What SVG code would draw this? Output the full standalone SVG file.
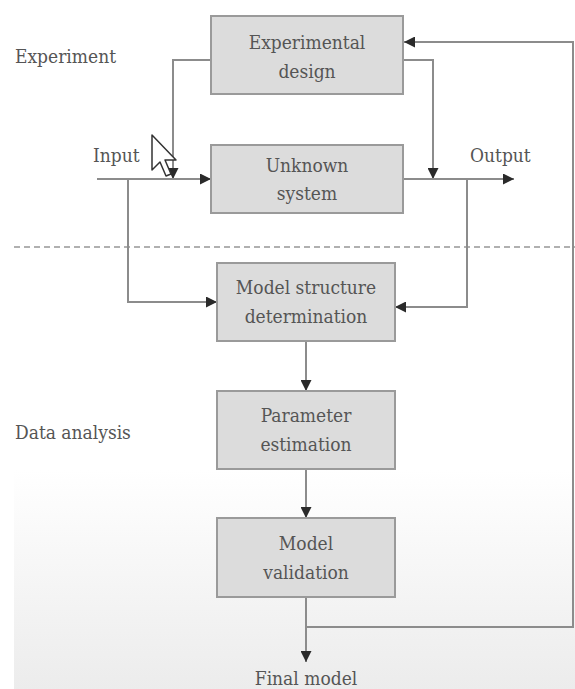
<svg xmlns="http://www.w3.org/2000/svg" width="575" height="689" viewBox="0 0 575 689">
  <defs>
    <marker id="arrow" markerUnits="userSpaceOnUse" markerWidth="11" markerHeight="11" refX="11" refY="5.5" orient="auto">
      <path d="M0,0 L11,5.5 L0,11 z" fill="#2a2a2a"/>
    </marker>
    <linearGradient id="fade" x1="0" y1="0" x2="0" y2="1">
      <stop offset="0" stop-color="#ffffff"/>
      <stop offset="1" stop-color="#ececec"/>
    </linearGradient>
    <style>
      .box { fill: #dcdcdc; stroke: #9a9a9a; stroke-width: 2; }
      .lbl { font-family: 'DejaVu Serif Condensed', 'DejaVu Serif', serif; font-stretch: condensed; font-size: 19px; fill: #555555; }
      .mid { text-anchor: middle; }
      .wire { fill: none; stroke: #8c8c8c; stroke-width: 2; }
    </style>
  </defs>

  <rect width="575" height="689" fill="#ffffff"/>
  <rect x="14" y="470" width="561" height="219" fill="url(#fade)"/>

  <!-- section divider -->
  <line x1="14" y1="247" x2="575" y2="247" stroke="#b0b0b0" stroke-width="2" stroke-dasharray="6 4"/>

  <!-- section labels -->
  <text class="lbl" x="15" y="63">Experiment</text>
  <text class="lbl" x="15" y="439">Data analysis</text>
  <text class="lbl" x="93" y="162">Input</text>
  <text class="lbl" x="470" y="162">Output</text>
  <text class="lbl mid" x="306" y="685">Final model</text>

  <!-- connectors -->
  <g id="connectors">
    <path class="wire" d="M306 627 H573 V42 H404" marker-end="url(#arrow)"/>
    <path class="wire" d="M211 60 H173 V179" marker-end="url(#arrow)"/>
    <path class="wire" d="M403 60 H433 V179" marker-end="url(#arrow)"/>
    <path class="wire" d="M97 179 H211" marker-end="url(#arrow)"/>
    <path class="wire" d="M403 179 H514" marker-end="url(#arrow)"/>
    <path class="wire" d="M128 179 V302 H217" marker-end="url(#arrow)"/>
    <path class="wire" d="M467 179 V307 H395" marker-end="url(#arrow)"/>
    <path class="wire" d="M306 341 V391" marker-end="url(#arrow)"/>
    <path class="wire" d="M306 469 V518" marker-end="url(#arrow)"/>
    <path class="wire" d="M306 597 V662" marker-end="url(#arrow)"/>
  </g>

  <!-- nodes -->
  <g id="experimental-design">
    <rect class="box" x="211" y="16" width="192" height="78"/>
    <text class="lbl mid" x="307" y="49">Experimental</text>
    <text class="lbl mid" x="307" y="78">design</text>
  </g>
  <g id="unknown-system">
    <rect class="box" x="211" y="145" width="192" height="68"/>
    <text class="lbl mid" x="307" y="172">Unknown</text>
    <text class="lbl mid" x="307" y="200">system</text>
  </g>
  <g id="model-structure">
    <rect class="box" x="217" y="263" width="178" height="78"/>
    <text class="lbl mid" x="306" y="294">Model structure</text>
    <text class="lbl mid" x="306" y="323">determination</text>
  </g>
  <g id="parameter-estimation">
    <rect class="box" x="217" y="391" width="178" height="78"/>
    <text class="lbl mid" x="306" y="422">Parameter</text>
    <text class="lbl mid" x="306" y="451">estimation</text>
  </g>
  <g id="model-validation">
    <rect class="box" x="217" y="518" width="178" height="79"/>
    <text class="lbl mid" x="306" y="550">Model</text>
    <text class="lbl mid" x="306" y="579">validation</text>
  </g>

  <!-- mouse pointer -->
  <path d="M152 135 V170 L160 162 L166 176 L171 174 L165 160 L176 160 Z" fill="#ffffff" stroke="#333" stroke-width="1.5" stroke-linejoin="round"/>
</svg>
